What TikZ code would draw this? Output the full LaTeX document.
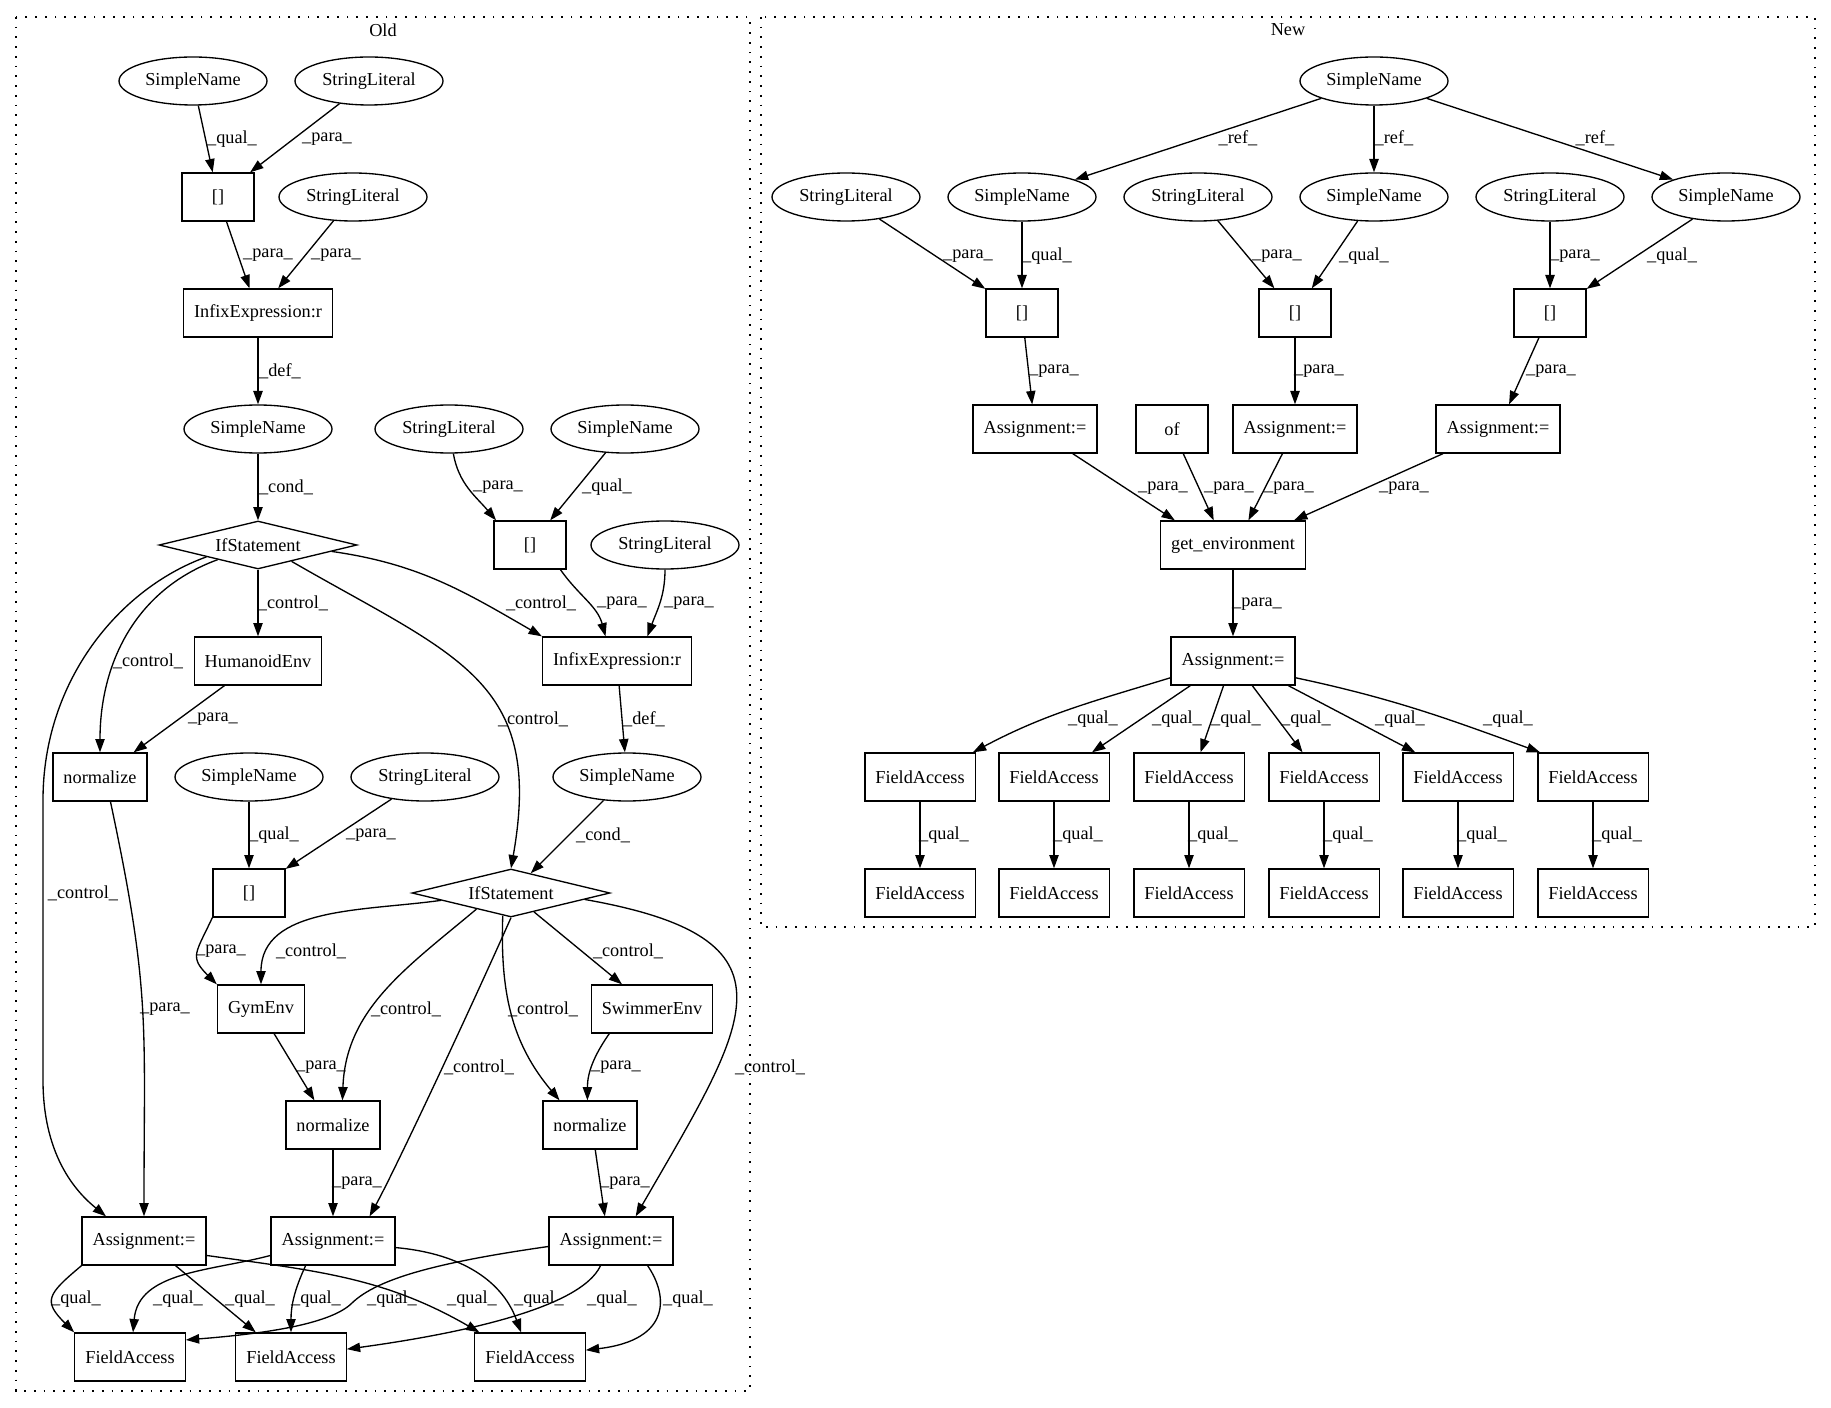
\documentclass[tikz,border=0pt]{standalone}
\usepackage{fontspec}
\setmainfont{Liberation Serif}
\usetikzlibrary{shapes.geometric,arrows.meta}
\tikzset{
  gfont/.style={font=\fontsize{13.7}{16}\selectfont},
  box/.style={gfont, draw, line width=1pt, rectangle, minimum width=54pt, minimum height=36pt, inner xsep=7.9pt},
  oval/.style={gfont, draw, line width=1pt, ellipse, minimum width=111pt, minimum height=36pt},
  cond/.style={gfont, draw, line width=1pt, diamond, aspect=4, inner sep=0pt, minimum width=148.5pt, minimum height=36pt},
  edge/.style={line width=1pt, -{Triangle[length=10pt,width=7pt]}},
  lab/.style={gfont, inner sep=0pt},
  cluster/.style={line width=1pt, dash pattern=on 1.3pt off 6pt}
}
\begin{document}
\begin{tikzpicture}[x=0.75pt,y=0.75pt]
\useasboundingbox (0,0) rectangle (1831,-1408);
% clusters
\draw[cluster] (16,-17) rectangle (750,-1391);
\draw[cluster] (761,-17) rectangle (1815,-927);
\node[lab] (old) at (383,-30) {Old};
\node[lab] (new) at (1288,-30) {New};

% Old
\node[oval] (osn1) at (193,-81) {SimpleName};
\node[oval] (osl1) at (369,-81) {StringLiteral};
\node[box] (obr1) at (218,-197) {[]};
\node[oval] (osl2) at (353,-197) {StringLiteral};
\node[box] (oinf1) at (258,-313) {InfixExpression:r};
\node[oval] (osn2) at (258,-429) {SimpleName};
\node[oval] (osl3) at (449,-429) {StringLiteral};
\node[oval] (osn3) at (625,-429) {SimpleName};
\node[cond] (oif1) at (258,-545) {IfStatement};
\node[box] (obr2) at (530,-545) {[]};
\node[oval] (osl4) at (665,-545) {StringLiteral};
\node[box] (ohum) at (258,-661) {HumanoidEnv};
\node[box] (oinf2) at (617,-661) {InfixExpression:r};
\node[box] (onorm1) at (100,-777) {normalize};
\node[oval] (osn5) at (249,-777) {SimpleName};
\node[oval] (osl5) at (425,-777) {StringLiteral};
\node[oval] (osn4) at (627,-777) {SimpleName};
\node[box] (obr3) at (249,-893) {[]};
\node[cond] (oif2) at (511,-893) {IfStatement};
\node[box] (ogym) at (261,-1009) {GymEnv};
\node[box] (oswim) at (652,-1009) {SwimmerEnv};
\node[box] (onorm2) at (333,-1125) {normalize};
\node[box] (onorm3) at (590,-1125) {normalize};
\node[box] (oas1) at (144,-1241) {Assignment:=};
\node[box] (oas2) at (333,-1241) {Assignment:=};
\node[box] (oas3) at (611,-1241) {Assignment:=};
\node[box] (ofa1) at (130,-1357) {FieldAccess};
\node[box] (ofa2) at (291,-1357) {FieldAccess};
\node[box] (ofa3) at (530,-1357) {FieldAccess};

\draw[edge] (osn1) -- (obr1) node[lab] at (232,-139) {\_qual\_};
\draw[edge] (osl1) -- (obr1) node[lab] at (327,-139) {\_para\_};
\draw[edge] (obr1) -- (oinf1) node[lab] at (268,-255) {\_para\_};
\draw[edge] (osl2) -- (oinf1) node[lab] at (336,-255) {\_para\_};
\draw[edge] (oinf1) -- (osn2) node[lab] at (280,-371) {\_def\_};
\draw[edge] (osn2) -- (oif1) node[lab] at (286,-487) {\_cond\_};
\draw[edge] (osl3) to[out=-80,in=130] (obr2.144) node[lab] at (498,-487) {\_para\_};
\draw[edge] (osn3) -- (obr2) node[lab] at (607,-487) {\_qual\_};
\draw[edge] (obr2.-39) to[out=-55,in=105] (oinf2.115) node[lab] at (622,-603) {\_para\_};
\draw[edge] (osl4) to[out=-90,in=70] (oinf2.39) node[lab] at (689,-603) {\_para\_};
\draw[edge] (oif1) -- (ohum) node[lab] at (293,-603) {\_control\_};
\draw[edge] (oif1.-5) to[out=-8,in=150] (oinf2.north west) node[lab] at (541,-603) {\_control\_};
\draw[edge] (oif1.-26) to[out=-30,in=80,looseness=1.3] (oif2.north) node[lab] at (533,-719) {\_control\_};
\draw[edge] (oif1.200) to[out=200,in=90] (onorm1.north) node[lab] at (148,-661) {\_control\_};
\draw[edge] (oif1.193) .. controls (120,-588) and (43,-680) .. (43,-800) -- (43,-1080)
  .. controls (43,-1160) and (80,-1195) .. (oas1.147) node[lab] at (83,-893) {\_control\_};
\draw[edge] (ohum) -- (onorm1) node[lab] at (213,-719) {\_para\_};
\draw[edge] (oinf2) -- (osn4) node[lab] at (644,-719) {\_def\_};
\draw[edge] (onorm1.-67) to[out=-78,in=90,looseness=1.2] (oas1.north) node[lab] at (165,-1009) {\_para\_};
\draw[edge] (osn5) -- (obr3) node[lab] at (274,-835) {\_qual\_};
\draw[edge] (osl5) -- (obr3) node[lab] at (371,-835) {\_para\_};
\draw[edge] (osn4) -- (oif2) node[lab] at (603,-835) {\_cond\_};
\draw[edge] (obr3.south west) to[out=-115,in=135,looseness=1.5] (ogym.north west) node[lab] at (221,-951) {\_para\_};
\draw[edge] (oif2.186) to[out=188,in=90] (ogym.north) node[lab] at (311,-951) {\_control\_};
\draw[edge] (oif2) -- (oswim) node[lab] at (628,-951) {\_control\_};
\draw[edge] (oif2.205) to[out=220,in=88] (onorm2.69) node[lab] at (406,-1009) {\_control\_};
\draw[edge] (oif2.250) to[out=-92,in=130] (onorm3.141) node[lab] at (543,-1009) {\_control\_};
\draw[edge] (oif2.south) .. controls (470,-1010) and (395,-1170) .. (oas2.34) node[lab] at (479,-1067) {\_control\_};
\draw[edge] (oif2.-5) to[out=-10,in=60,looseness=1.8] (oas3.45) node[lab] at (770,-1067) {\_control\_};
\draw[edge] (ogym.-62) -- (onorm2.127) node[lab] at (321,-1067) {\_para\_};
\draw[edge] (oswim.210) to[out=-125,in=90] (onorm3.96) node[lab] at (616,-1067) {\_para\_};
\draw[edge] (onorm2) -- (oas2) node[lab] at (357,-1183) {\_para\_};
\draw[edge] (onorm3.-78) -- (oas3.104) node[lab] at (625,-1183) {\_para\_};

% assignments to field accesses
\draw[edge] (oas1.south west) to[out=-140,in=135,looseness=1.7] (ofa1.north west) node[lab] at (76,-1299) {\_qual\_};
\draw[edge] (oas1.-38) -- (ofa2.145) node[lab] at (250,-1299) {\_qual\_};
\draw[edge] (oas1.-13) to[out=-8,in=150] (ofa3.154) node[lab] at (472,-1299) {\_qual\_};
\draw[edge] (oas2.193) to[out=195,in=85] (ofa1.83) node[lab] at (178,-1299) {\_qual\_};
\draw[edge] (oas2.222) to[out=-115,in=90] (ofa2.north) node[lab] at (316,-1299) {\_qual\_};
\draw[edge] (oas2.-6) to[out=-5,in=110] (ofa3.110) node[lab] at (539,-1299) {\_qual\_};
\draw[edge] (oas3.185) .. controls (440,-1262) and (378,-1278) .. (352,-1303)
  .. controls (330,-1325) and (260,-1334) .. (ofa1.17) node[lab] at (392,-1299) {\_qual\_};
\draw[edge] (oas3.247) .. controls (580,-1310) and (450,-1335) .. (ofa2.8) node[lab] at (612,-1299) {\_qual\_};
\draw[edge] (oas3.-34) .. controls (668,-1295) and (672,-1340) .. (ofa3.7) node[lab] at (688,-1299) {\_qual\_};

% New
\node[oval] (nsn0) at (1374,-81) {SimpleName};
\node[oval] (nsl1) at (846,-197) {StringLiteral};
\node[oval] (nsn1) at (1022,-197) {SimpleName};
\node[oval] (nsl2) at (1198,-197) {StringLiteral};
\node[oval] (nsn2) at (1374,-197) {SimpleName};
\node[oval] (nsl3) at (1550,-197) {StringLiteral};
\node[oval] (nsn3) at (1726,-197) {SimpleName};
\node[box] (nbr1) at (1022,-313) {[]};
\node[box] (nbr2) at (1295,-313) {[]};
\node[box] (nbr3) at (1550,-313) {[]};
\node[box] (nas1) at (1035,-429) {Assignment:=};
\node[box] (nof) at (1172,-429) {of};
\node[box] (nas2) at (1295,-429) {Assignment:=};
\node[box] (nas3) at (1498,-429) {Assignment:=};
\node[box] (nget) at (1233,-545) {get\_environment};
\node[box] (nas0) at (1233,-661) {Assignment:=};
\foreach \i/\x in {1/920,2/1054,3/1189,4/1324,5/1458,6/1593} {
  \node[box] (nfa\i) at (\x,-777) {FieldAccess};
  \node[box] (nfb\i) at (\x,-893) {FieldAccess};
  \draw[edge] (nfa\i) -- (nfb\i) node[lab] at (\x+24,-835) {\_qual\_};
}

\draw[edge] (nsn0) -- (nsn1) node[lab] at (1238,-138) {\_ref\_};
\draw[edge] (nsn0) -- (nsn2) node[lab] at (1394,-138) {\_ref\_};
\draw[edge] (nsn0) -- (nsn3) node[lab] at (1595,-138) {\_ref\_};
\draw[edge] (nsl1) -- (nbr1) node[lab] at (968,-256) {\_para\_};
\draw[edge] (nsn1) -- (nbr1) node[lab] at (1047,-256) {\_qual\_};
\draw[edge] (nsl2) -- (nbr2) node[lab] at (1277,-256) {\_para\_};
\draw[edge] (nsn2) -- (nbr2) node[lab] at (1364,-256) {\_qual\_};
\draw[edge] (nsl3) -- (nbr3) node[lab] at (1575,-256) {\_para\_};
\draw[edge] (nsn3) -- (nbr3) node[lab] at (1672,-256) {\_qual\_};
\draw[edge] (nbr1) -- (nas1) node[lab] at (1054,-371) {\_para\_};
\draw[edge] (nbr2) -- (nas2) node[lab] at (1319,-371) {\_para\_};
\draw[edge] (nbr3) -- (nas3) node[lab] at (1551,-371) {\_para\_};
\draw[edge] (nas1) -- (nget.157) node[lab] at (1163,-488) {\_para\_};
\draw[edge] (nof) -- (nget.128) node[lab] at (1229,-488) {\_para\_};
\draw[edge] (nas2) -- (nget.58) node[lab] at (1289,-488) {\_para\_};
\draw[edge] (nas3) -- (nget.22) node[lab] at (1404,-488) {\_para\_};
\draw[edge] (nget) -- (nas0) node[lab] at (1257,-604) {\_para\_};
\draw[edge] (nas0.195) to[out=197,in=28] (nfa1.25) node[lab] at (1093,-719) {\_qual\_};
\draw[edge] (nas0.210) -- (nfa2.33) node[lab] at (1177,-719) {\_qual\_};
\draw[edge] (nas0.249) -- (nfa3.65) node[lab] at (1236,-719) {\_qual\_};
\draw[edge] (nas0.-52) -- (nfa4.131) node[lab] at (1306,-719) {\_qual\_};
\draw[edge] (nas0.-24) -- (nfa5.150) node[lab] at (1400,-719) {\_qual\_};
\draw[edge] (nas0.-15) to[out=-12,in=160] (nfa6.155) node[lab] at (1508,-719) {\_qual\_};
\end{tikzpicture}
\end{document}
